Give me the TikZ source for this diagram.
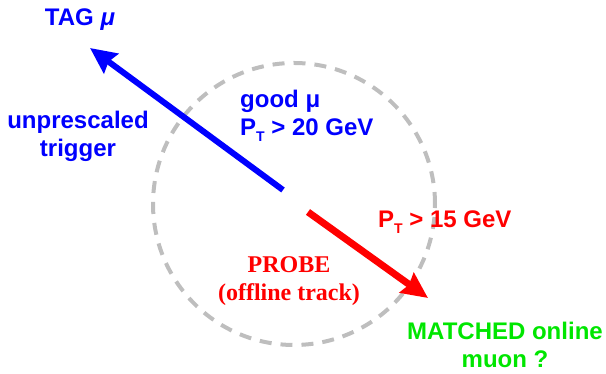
\documentclass[tikz,border=0pt]{standalone}
\usepackage{fontspec}
\setmainfont{Liberation Sans}
\newfontfamily\probefont{Liberation Serif}
\usetikzlibrary{arrows.meta}
\definecolor{matchgreen}{RGB}{0,230,0}
\definecolor{conegray}{RGB}{190,190,190}
\newcommand{\PT}{P\raisebox{-0.5ex}{\fontsize{14}{14}\selectfont T}}
\tikzset{
  lbl/.style={font=\fontsize{24}{28}\selectfont\bfseries, align=center, inner sep=0pt},
  trk/.style={line width=6pt, -{Stealth[length=26pt, width=24pt, inset=3pt]}},
}
\begin{document}
\begin{tikzpicture}[x=1pt, y=1pt]
\useasboundingbox (0,0) rectangle (606,374);
\draw[conegray, line width=4pt, dash pattern=on 12pt off 9pt] (294,170) circle (141);

\coordinate (tagtail) at (283,184);
\coordinate (tagtip) at (90,326);
\draw[trk, blue] (tagtail) -- (tagtip);
\coordinate (probetail) at (308,162);
\coordinate (probetip) at (428,76);
\draw[trk, red, line width=7pt] (probetail) -- (probetip);

\node[lbl, blue] (tag) at (80,354) {TAG \textit{μ}};
\node[lbl, blue] (trig) at (78,238) {unprescaled\\trigger};
\node[lbl, blue, align=left, anchor=west] (good) at (240,258) {good μ\\\PT\ > 20 GeV};
\node[lbl, red, anchor=west] (cut) at (378,152) {\PT\ > 15 GeV};
\node[lbl, red, font=\fontsize{24}{28}\selectfont\bfseries\probefont] (probe) at (289,93) {PROBE\\(offline track)};
\node[lbl, matchgreen] (match) at (505,29) {MATCHED online\\muon ?};
\end{tikzpicture}
\end{document}
